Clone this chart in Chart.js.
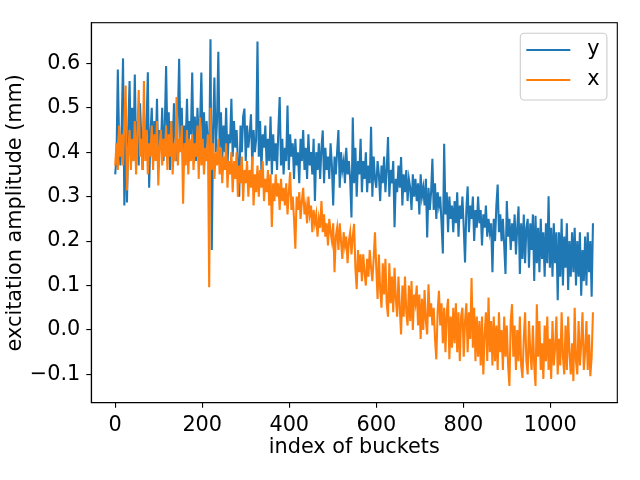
<!DOCTYPE html>
<html><head><meta charset="utf-8">
<script src="https://cdn.jsdelivr.net/npm/chart.js@4"></script>
<style>html,body{margin:0;padding:0;background:#fff}</style>
</head><body>
<canvas id="c" width="640" height="480"></canvas>
<script>
const bucketStep = 3;
const yAmplitude = [
0.35,0.39,0.586,0.42,0.37,0.46,0.611,0.28,0.48,0.287,
0.45,0.56,0.40,0.50,0.38,0.575,0.41,0.47,0.37,0.51,
0.43,0.36,0.49,0.40,0.46,0.58,0.32,0.44,0.50,0.38,
0.47,0.40,0.52,0.37,0.45,0.41,0.50,0.38,0.46,0.594,
0.42,0.49,0.36,0.47,0.40,0.51,0.43,0.38,0.48,0.61,
0.41,0.50,0.37,0.46,0.42,0.52,0.39,0.47,0.44,0.579,
0.40,0.48,0.38,0.50,0.43,0.46,0.579,0.41,0.49,0.39,
0.47,0.42,0.38,0.654,0.18,0.45,0.568,0.40,0.47,0.626,
0.41,0.49,0.38,0.46,0.40,0.50,0.37,0.44,0.42,0.52,
0.39,0.47,0.41,0.45,0.38,0.30,0.46,0.40,0.48,0.498,
0.38,0.46,0.41,0.44,0.485,0.37,0.45,0.40,0.43,0.649,
0.39,0.47,0.36,0.44,0.41,0.46,0.37,0.43,0.38,0.48,
0.35,0.44,0.38,0.42,0.36,0.45,0.524,0.37,0.43,0.35,
0.41,0.38,0.505,0.36,0.44,0.39,0.42,0.34,0.43,0.37,
0.40,0.33,0.43,0.38,0.45,0.36,0.41,0.34,0.44,0.37,
0.40,0.35,0.43,0.29,0.40,0.36,0.42,0.34,0.41,0.449,
0.33,0.41,0.36,0.39,0.34,0.42,0.37,0.28,0.39,0.35,
0.40,0.45,0.32,0.40,0.36,0.38,0.33,0.41,0.35,0.38,
0.34,0.253,0.478,0.33,0.41,0.30,0.38,0.35,0.43,0.31,
0.38,0.34,0.40,0.31,0.37,0.33,0.457,0.30,0.39,0.34,
0.32,0.38,0.35,0.29,0.37,0.33,0.39,0.31,0.36,0.434,
0.30,0.36,0.33,0.38,0.231,0.34,0.31,0.37,0.32,0.389,
0.28,0.35,0.31,0.36,0.29,0.34,0.32,0.27,0.35,0.30,
0.34,0.29,0.33,0.26,0.35,0.30,0.32,0.28,0.34,0.208,
0.32,0.27,0.31,0.385,0.27,0.33,0.25,0.31,0.28,0.30,
0.24,0.172,0.419,0.26,0.31,0.22,0.30,0.25,0.28,0.22,
0.29,0.24,0.31,0.21,0.28,0.25,0.30,0.23,0.152,0.27,
0.323,0.22,0.28,0.25,0.30,0.20,0.27,0.23,0.30,0.24,
0.27,0.19,0.26,0.23,0.28,0.21,0.25,0.22,0.24,0.13,
0.25,0.20,0.28,0.327,0.22,0.26,0.20,0.25,0.19,0.126,
0.29,0.21,0.25,0.18,0.24,0.20,0.26,0.17,0.23,0.278,
0.126,0.24,0.16,0.26,0.15,0.23,0.25,0.14,0.24,0.18,
0.26,0.11,0.257,0.15,0.23,0.13,0.25,0.16,0.22,0.12,
0.24,0.15,0.301,0.14,0.23,0.12,0.24,0.15,0.22,0.067,
0.22,0.12,0.25,0.10,0.21,0.14,0.24,0.09,0.20,0.12,
0.22,0.13,0.23,0.10,0.20,0.12,0.22,0.077,0.18,0.11,
0.21,0.10,0.22,0.13,0.20,0.075,0.24
];
const xAmplitude = [
0.37,0.42,0.36,0.46,0.39,0.44,0.37,0.47,0.55,0.314,
0.40,0.45,0.36,0.43,0.38,0.47,0.35,0.44,0.54,0.39,
0.43,0.36,0.56,0.38,0.45,0.35,0.42,0.39,0.46,0.36,
0.44,0.38,0.47,0.325,0.41,0.45,0.37,0.43,0.39,0.46,
0.36,0.44,0.39,0.47,0.35,0.42,0.38,0.524,0.37,0.43,
0.40,0.46,0.284,0.42,0.37,0.45,0.35,0.43,0.38,0.44,
0.36,0.42,0.39,0.46,0.34,0.478,0.37,0.43,0.35,0.41,
0.38,0.44,0.096,0.50,0.36,0.42,0.34,0.40,0.37,0.43,
0.35,0.41,0.33,0.39,0.36,0.42,0.32,0.38,0.35,0.40,
0.31,0.38,0.34,0.40,0.30,0.37,0.33,0.39,0.29,0.36,
0.33,0.38,0.30,0.36,0.32,0.39,0.28,0.35,0.31,0.37,
0.30,0.36,0.32,0.38,0.29,0.34,0.31,0.36,0.28,0.35,
0.232,0.33,0.29,0.35,0.30,0.33,0.27,0.34,0.29,0.32,
0.28,0.33,0.26,0.31,0.355,0.27,0.30,0.25,0.183,0.30,
0.27,0.31,0.25,0.29,0.32,0.26,0.28,0.24,0.30,0.26,
0.28,0.22,0.27,0.24,0.26,0.21,0.25,0.23,0.29,0.22,
0.26,0.21,0.24,0.19,0.25,0.22,0.20,0.24,0.13,0.21,
0.23,0.18,0.24,0.20,0.16,0.22,0.19,0.21,0.15,0.20,
0.22,0.17,0.21,0.239,0.14,0.092,0.18,0.13,0.17,0.11,
0.17,0.13,0.10,0.16,0.12,0.18,0.14,0.11,0.16,0.22,
0.14,0.07,0.17,0.09,0.05,0.15,0.08,0.16,0.06,0.03,
0.15,0.06,0.12,0.04,0.14,0.07,0.03,0.12,0.05,-0.01,
0.10,0.03,0.12,0.04,0.01,0.10,0.02,0.11,0.00,0.08,
0.06,0.10,0.01,0.08,-0.02,0.07,0.00,0.09,0.02,-0.01,
0.103,0.03,0.06,0.01,0.05,-0.02,-0.066,0.04,0.088,0.01,
0.06,-0.03,0.05,-0.05,0.04,0.07,-0.066,0.03,-0.04,0.05,
-0.03,0.06,-0.05,0.04,-0.07,0.03,0.05,-0.06,0.02,0.06,
-0.05,0.04,-0.02,0.117,-0.04,0.05,-0.07,0.03,-0.06,0.02,
-0.08,0.03,-0.10,-0.01,0.04,-0.07,0.073,-0.05,0.02,-0.08,
0.03,-0.07,0.01,-0.09,0.04,-0.05,0.00,-0.09,0.03,-0.06,
0.01,-0.08,-0.126,0.02,0.058,-0.06,0.01,-0.09,0.00,-0.07,
0.03,-0.08,-0.108,-0.02,0.04,-0.07,-0.10,0.02,-0.05,-0.09,
0.01,-0.08,-0.126,0.058,-0.06,0.02,-0.09,-0.03,-0.11,0.01,
-0.07,0.03,-0.09,-0.02,-0.11,0.02,-0.08,-0.04,0.03,-0.10,
-0.02,-0.08,0.04,-0.06,-0.10,0.01,-0.09,0.03,-0.05,-0.10,
-0.03,-0.115,0.05,-0.07,-0.10,0.02,-0.08,-0.03,0.04,-0.09,
-0.05,0.02,-0.09,-0.01,-0.104,-0.06,0.04
];
const xTickValues = [0,200,400,600,800,1000];
const yTickValues = [-0.1,0,0.1,0.2,0.3,0.4,0.5,0.6];
const seriesNames = ['y','x'];
const seriesColors = ['#1f77b4','#ff7f0e'];

const buckets = yAmplitude.map((_, i) => i * bucketStep);
const toPoints = vals => vals.map((v, i) => ({x: buckets[i], y: v}));

const FONT = {family: 'DejaVu Sans', size: 20.8};
const fmtY = v => (v < 0 ? '\u2212' : '') + Math.abs(v).toFixed(1);

const boxPlugin = {
  id: 'boxLegend',
  afterDraw(chart) {
    const ctx = chart.ctx, a = chart.chartArea;
    ctx.save();
    ctx.strokeStyle = '#000'; ctx.lineWidth = 1.1;
    ctx.strokeRect(a.left, a.top, a.right - a.left, a.bottom - a.top);
    const lx = a.right - 10.4 - 86.6, ly = a.top + 10.6, lw = 86.6, lh = 66.7, r = 4;
    ctx.beginPath();
    ctx.moveTo(lx + r, ly);
    ctx.arcTo(lx + lw, ly, lx + lw, ly + lh, r);
    ctx.arcTo(lx + lw, ly + lh, lx, ly + lh, r);
    ctx.arcTo(lx, ly + lh, lx, ly, r);
    ctx.arcTo(lx, ly, lx + lw, ly, r);
    ctx.closePath();
    ctx.fillStyle = 'rgba(255,255,255,0.8)'; ctx.fill();
    ctx.strokeStyle = '#cccccc'; ctx.lineWidth = 1.1; ctx.stroke();
    ctx.font = FONT.size + 'px "' + FONT.family + '"';
    ctx.textBaseline = 'middle'; ctx.textAlign = 'left';
    seriesNames.forEach((n, i) => {
      const yy = ly + 16.7 + i * 30;
      ctx.strokeStyle = seriesColors[i]; ctx.lineWidth = 2.08;
      ctx.beginPath(); ctx.moveTo(lx + 6, yy); ctx.lineTo(lx + 50, yy); ctx.stroke();
      ctx.fillStyle = '#000';
      ctx.fillText(n, lx + 67, yy);
    });
    ctx.restore();
  }
};

new Chart(document.getElementById('c'), {
  type: 'line',
  data: {
    datasets: [
      {label: seriesNames[0], data: toPoints(yAmplitude), borderColor: seriesColors[0], borderWidth: 2.08, pointRadius: 0, tension: 0, fill: false, order: 1},
      {label: seriesNames[1], data: toPoints(xAmplitude), borderColor: seriesColors[1], borderWidth: 2.08, pointRadius: 0, tension: 0, fill: false, order: 0}
    ]
  },
  options: {
    responsive: false, animation: false, devicePixelRatio: 1,
    layout: {padding: {left: 0, top: 22.7, right: 22.7, bottom: 0}},
    plugins: {legend: {display: false}, tooltip: {enabled: false}},
    scales: {
      x: {
        type: 'linear', min: -54.95, max: 1153.95,
        afterFit: s => { s.height = 77.3; },
        afterBuildTicks: s => { s.ticks = xTickValues.map(v => ({value: v})); },
        ticks: {font: FONT, color: '#000', padding: 5, maxRotation: 0, autoSkip: false, callback: v => String(v)},
        grid: {display: true, drawOnChartArea: false, drawTicks: true, tickLength: 5, color: '#000', lineWidth: 1.1},
        border: {display: true, color: '#000', width: 1.1},
        title: {display: true, text: 'index of buckets', font: FONT, color: '#000', padding: {top: 0, bottom: 19.5}}
      },
      y: {
        type: 'linear', min: -0.1636, max: 0.6913,
        afterFit: s => { s.width = 91.3; },
        afterBuildTicks: s => { s.ticks = yTickValues.map(v => ({value: v})); },
        ticks: {font: FONT, color: '#000', padding: 6, autoSkip: false, callback: v => fmtY(v)},
        grid: {display: true, drawOnChartArea: false, drawTicks: true, tickLength: 5, color: '#000', lineWidth: 1.1},
        border: {display: true, color: '#000', width: 1.1},
        title: {display: true, text: 'excitation amplitude (mm)', font: FONT, color: '#000', padding: {top: 3, bottom: 0}}
      }
    }
  },
  plugins: [boxPlugin]
});
</script>
</body></html>
